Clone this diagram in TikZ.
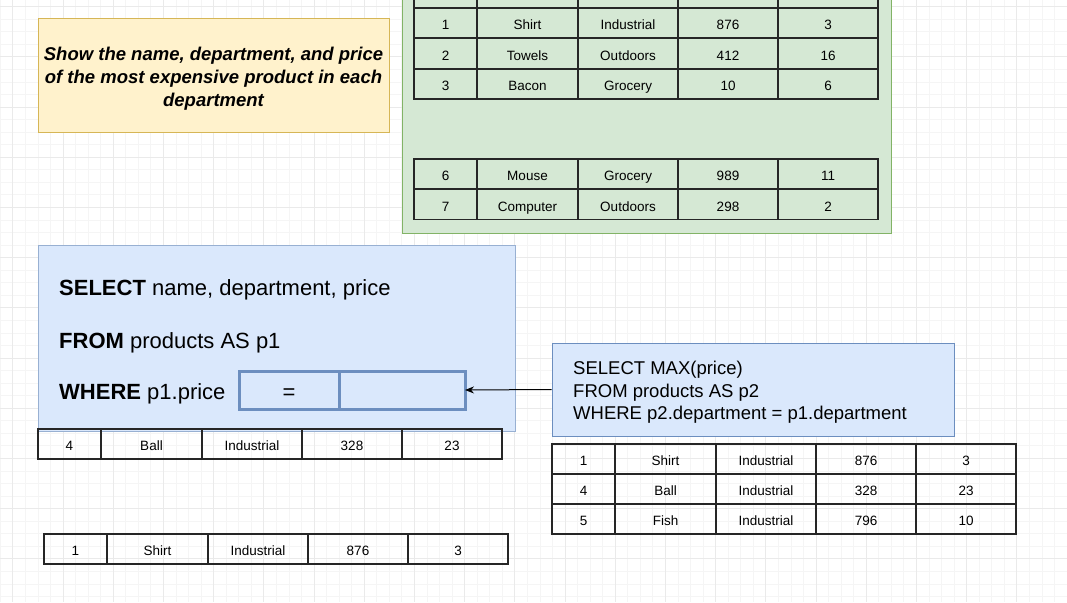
\documentclass[tikz,border=0pt]{standalone}
\usepackage{fontspec}
\setmainfont{Liberation Sans}
\usetikzlibrary{arrows.meta,positioning,calc}
\definecolor{notefill}{RGB}{255,242,204}
\definecolor{notedraw}{RGB}{214,182,86}
\definecolor{groupfill}{RGB}{213,232,212}
\definecolor{groupdraw}{RGB}{130,179,102}
\definecolor{queryfill}{RGB}{218,232,252}
\definecolor{querydraw}{RGB}{108,142,191}
\definecolor{gridminor}{RGB}{245,245,245}
\definecolor{gridmajor}{RGB}{234,234,234}

\tikzset{
  cell/.style={draw=black!85, line width=1.3pt, minimum height=30, inner sep=0, outer sep=0,
    anchor=north west, text height=13, text depth=0, font=\fontsize{13.5}{16}\selectfont},
  sqlline/.style={anchor=base west, inner sep=0, font=\fontsize{22}{26}\selectfont},
  slotbox/.style={draw=querydraw, line width=3pt, fill=queryfill, outer sep=0, inner sep=0,
    minimum height=38, text height=19.4, text depth=0, font=\fontsize{22}{26}\selectfont}
}

% one product row: name, x, y, id, name, department, price, weight
\newcommand{\prodrow}[8]{%
  \node[cell, minimum width=63] (#1a) at (#2,#3) {#4};
  \node[cell, minimum width=101] (#1b) at (#1a.north east) {#5};
  \node[cell, minimum width=100] (#1c) at (#1b.north east) {#6};
  \node[cell, minimum width=100] (#1d) at (#1c.north east) {#7};
  \node[cell, minimum width=100] (#1e) at (#1d.north east) {#8};
}

\begin{document}
\begin{tikzpicture}[x=1pt,y=-1pt]
\useasboundingbox (0,0) rectangle (1067,602);
\clip (0,0) rectangle (1067,602);
\fill[white] (0,0) rectangle (1067,602);

% grid
\foreach \gx in {0.25,12.8,...,1067}{
  \draw[gridminor,line width=0.8pt] (\gx,0) -- (\gx,602);
}
\foreach \gy in {6.6,19.15,...,602}{
  \draw[gridminor,line width=0.8pt] (0,\gy) -- (1067,\gy);
}
\foreach \gx in {12.8,63,...,1067}{
  \draw[gridmajor,line width=0.8pt] (\gx,0) -- (\gx,602);
}
\foreach \gy in {6.6,56.8,...,602}{
  \draw[gridmajor,line width=0.8pt] (0,\gy) -- (1067,\gy);
}

% green group with the products table
\filldraw[fill=groupfill,draw=groupdraw,line width=1pt] (402,-10) rectangle (891,233);
\prodrow{h}{414}{-22}{}{}{}{}{}
\prodrow{ra}{414}{8}{1}{Shirt}{Industrial}{876}{3}
\prodrow{rb}{414}{38.5}{2}{Towels}{Outdoors}{412}{16}
\prodrow{rc}{414}{69}{3}{Bacon}{Grocery}{10}{6}
\prodrow{rd}{414}{159}{6}{Mouse}{Grocery}{989}{11}
\prodrow{re}{414}{189.5}{7}{Computer}{Outdoors}{298}{2}

% task note
\node[draw=notedraw, fill=notefill, line width=1pt, minimum width=351, minimum height=113]
  (task) at (213.5,75.5) {};
\node[align=center, font=\fontsize{18.5}{23}\selectfont\bfseries\itshape]
  (tasktext) at (213.5,79) {Show the name, department, and price\\of the most expensive product in each\\department};

% outer query
\node[draw=querydraw!70, fill=queryfill, line width=1pt, minimum width=477, minimum height=186]
  (outer) at (276.5,338) {};
\node[sqlline] (sel) at (59,295) {\textbf{SELECT} name, department, price};
\node[sqlline] (frm) at (59,348) {\textbf{FROM} products AS p1};
\node[sqlline] (whr) at (59,399) {\textbf{WHERE} p1.price};
\node[slotbox, minimum width=100] (eq) at (289,390) {=};
\node[slotbox, minimum width=126] (slot) at (402,390) {};

\prodrow{la}{38}{429}{4}{Ball}{Industrial}{328}{23}

% subquery
\node[draw=querydraw, fill=queryfill, line width=1pt, minimum width=402, minimum height=93]
  (sub) at (753,389.5) {};
\node[anchor=west, inner sep=0, align=left, font=\fontsize{18.5}{22.5}\selectfont]
  (subtext) at (573,392.5) {SELECT MAX(price)\\FROM products AS p2\\WHERE p2.department = p1.department};

\prodrow{sa}{552}{444}{1}{Shirt}{Industrial}{876}{3}
\prodrow{sb}{552}{474}{4}{Ball}{Industrial}{328}{23}
\prodrow{sc}{552}{504}{5}{Fish}{Industrial}{796}{10}

% result
\prodrow{res}{44}{534}{1}{Shirt}{Industrial}{876}{3}

\draw[-{Stealth[length=9pt,width=7pt]},line width=1pt] (sub.west) -- (slot.east);
\end{tikzpicture}
\end{document}
